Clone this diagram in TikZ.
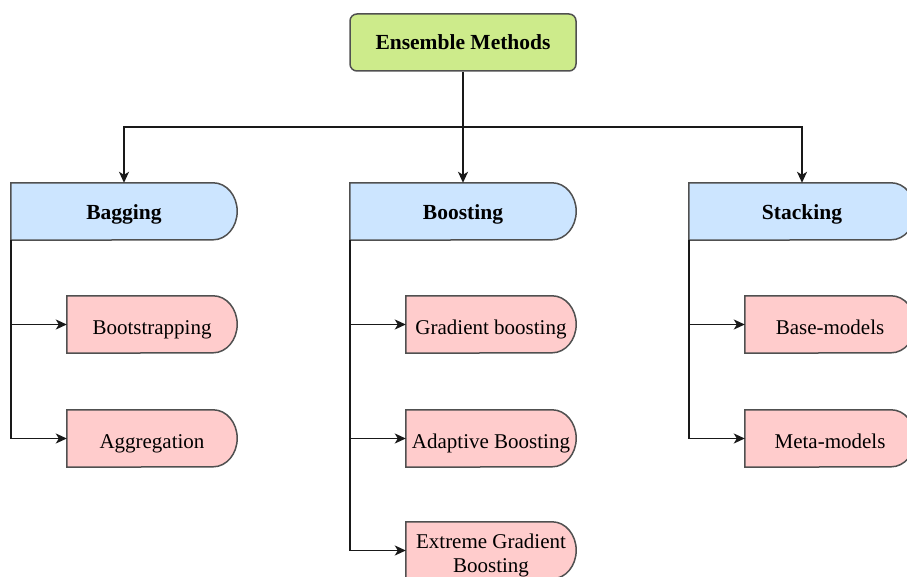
\documentclass[tikz,border=0pt]{standalone}
\usepackage{fontspec}
\setmainfont{Liberation Serif}
\usetikzlibrary{arrows.meta}
\pgfdeclarelayer{bg}
\pgfsetlayers{bg,main}

\definecolor{rootfill}{HTML}{CDEB8B}
\definecolor{headfill}{HTML}{CCE5FF}
\definecolor{leaffill}{HTML}{FFCCCC}
\definecolor{edgegray}{HTML}{505050}

\tikzset{
  boxline/.style={draw=edgegray, line width=1.5pt},
  rootbox/.style={boxline, fill=rootfill, rounded corners=7pt,
    minimum width=226pt, minimum height=57pt, inner sep=0pt,
    font=\fontsize{21.5}{24}\selectfont\bfseries},
  headbox/.style={minimum width=226pt, minimum height=57pt, inner sep=0pt,
    text height=16pt, text depth=0pt,
    font=\fontsize{21.5}{24}\selectfont\bfseries},
  leafbox/.style={minimum width=170pt, minimum height=57pt, inner sep=0pt,
    text height=20pt, text depth=0pt,
    align=center, font=\fontsize{21}{24}\selectfont},
  arr/.style={draw=black!90, line width=1.5pt, -{Stealth[length=11pt,width=10pt,inset=3pt]}},
}

% outline of a box with a half-round right end, drawn behind its node
\newcommand\roundend[2]{%
  \begin{pgfonlayer}{bg}
    \path[boxline, fill=#2] (#1.north west) -- ([xshift=-24pt]#1.north east)
      arc[start angle=90, end angle=-90, x radius=24pt, y radius=28.5pt]
      -- (#1.south west) -- cycle;
  \end{pgfonlayer}}

\begin{document}
\begin{tikzpicture}[x=1pt, y=-1pt]
\useasboundingbox (0,0) rectangle (907,577);

% root
\node[rootbox] (ens) at (463,42.5) {Ensemble Methods};

% method headers
\node[headbox] (bag) at (124,211.5) {Bagging};
\node[headbox] (boo) at (463,211.5) {Boosting};
\node[headbox] (stk) at (802,211.5) {Stacking};
\roundend{bag}{headfill}
\roundend{boo}{headfill}
\roundend{stk}{headfill}

% techniques
\node[leafbox] (boot) at (152,324.5) {Bootstrapping};
\node[leafbox] (aggr) at (152,438.5) {Aggregation};
\node[leafbox] (grad) at (491,324.5) {Gradient boosting};
\node[leafbox] (adab) at (491,438.5) {Adaptive Boosting};
\node[leafbox, text height=43.5pt] (xgb) at (491,550.5) {Extreme Gradient\\Boosting};
\node[leafbox] (base) at (830,324.5) {Base-models};
\node[leafbox] (meta) at (830,438.5) {Meta-models};
\foreach \n in {boot,aggr,grad,adab,xgb,base,meta}{\roundend{\n}{leaffill}}

% root to headers
\coordinate (split) at (463,127);
\draw[arr] (ens.south) -- (boo.north);
\draw[arr] (split) -| (bag.north);
\draw[arr] (split) -| (stk.north);

% headers to techniques
\draw[arr] (bag.south west) |- (boot.west);
\draw[arr] (bag.south west) |- (aggr.west);
\draw[arr] (boo.south west) |- (grad.west);
\draw[arr] (boo.south west) |- (adab.west);
\draw[arr] (boo.south west) |- (xgb.west);
\draw[arr] (stk.south west) |- (base.west);
\draw[arr] (stk.south west) |- (meta.west);
\end{tikzpicture}
\end{document}
